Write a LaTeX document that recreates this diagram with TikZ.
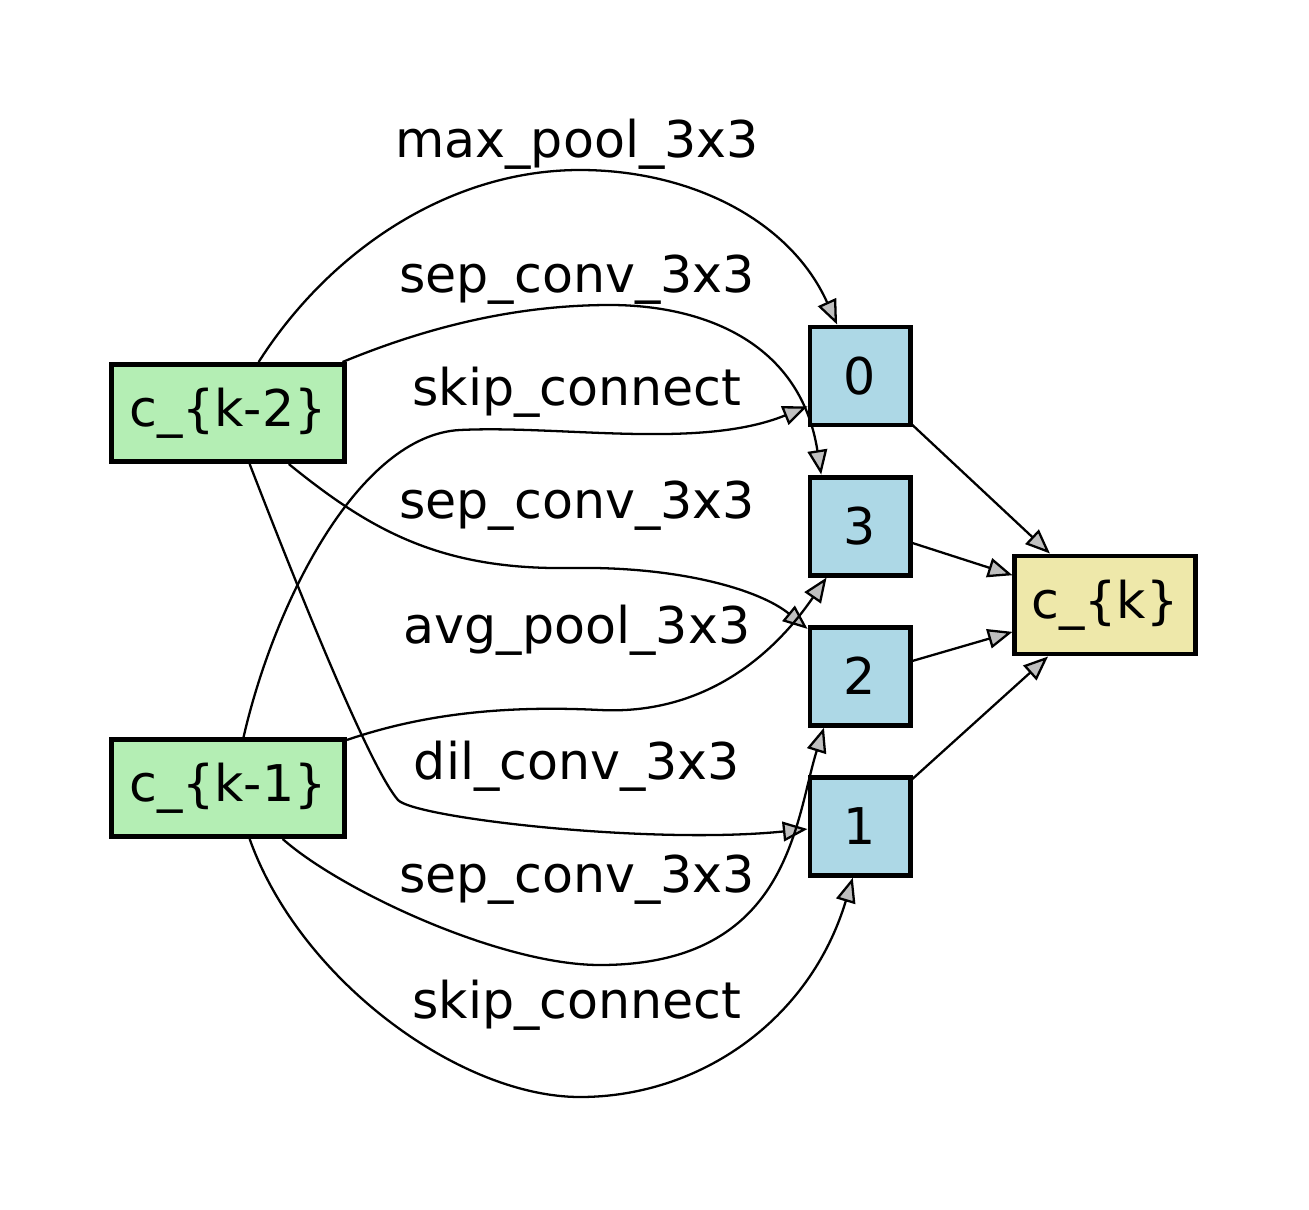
\documentclass[tikz,border=0pt]{standalone}
\usepackage{fontspec}
\setmainfont{DejaVu Sans}
\usetikzlibrary{arrows.meta,positioning}
\definecolor{cellin}{HTML}{B4EEB4}
\definecolor{cellop}{HTML}{ADD8E6}
\definecolor{cellout}{HTML}{EEE8AA}

\begin{document}
\begin{tikzpicture}[x=0.01cm, y=-0.01cm, node distance=1.5cm,
    font=\fontsize{14.4}{17}\selectfont,
    box/.style={draw, line width=1.4pt, inner sep=0pt},
    inbox/.style={box, fill=cellin, minimum width=2.33cm, minimum height=0.97cm},
    opbox/.style={box, fill=cellop, minimum width=1.0cm, minimum height=0.98cm},
    outbox/.style={box, fill=cellout, minimum width=1.8cm, minimum height=0.98cm},
    oplabel/.style={anchor=base},
    link/.style={line width=0.65pt, -{Triangle[length=7pt, width=5.6pt, fill=gray!50]}}]
    \useasboundingbox (0,0) rectangle (1309,1209);

    % Cell inputs
    \node[inbox] (ckm2) at (228,413) {c\_\{k-2\}};
    \node[inbox] (ckm1) at (228,788) {c\_\{k-1\}};

    % Intermediate nodes
    \node[opbox] (n0) at (860,376) {0};
    \node[opbox, below of=n0] (n3) {3};
    \node[opbox, below of=n3] (n2) {2};
    \node[opbox, below of=n2] (n1) {1};

    % Cell output
    \node[outbox] (ck) at (1105,605) {c\_\{k\}};

    % Operations
    \draw[link] (ckm2.59) .. controls (330,250) and (450,170) .. (580,170)
        .. controls (690,170) and (790,220) .. (n0.114);
    \draw[link] (ckm2.24) .. controls (420,330) and (510,305) .. (610,305)
        .. controls (700,305) and (800,340) .. (n3.127);
    \draw[link] (ckm1.73) .. controls (275,600) and (360,435) .. (460,430)
        .. controls (560,425) and (700,450) .. (n0.210);
    \draw[link] (ckm2.320) .. controls (370,530) and (440,570) .. (570,568)
        .. controls (680,566) and (760,590) .. (n2.138);
    \draw[link] (ckm1.22) .. controls (420,715) and (500,705) .. (600,710)
        .. controls (700,715) and (770,660) .. (n3.237);
    \draw[link] (ckm2.293) .. controls (310,620) and (372,770) .. (398,800)
        .. controls (415,818) and (650,845) .. (n1.183);
    \draw[link] (ckm1.317) .. controls (340,890) and (500,965) .. (600,965)
        .. controls (790,965) and (795,820) .. (n2.235);
    \draw[link] (ckm1.293) .. controls (300,980) and (460,1097) .. (580,1097)
        .. controls (700,1097) and (810,1020) .. (n1.262);

    % Labels
    \node[oplabel] (lmax) at (577,157) {max\_pool\_3x3};
    \node[oplabel] (lsep1) at (577,292) {sep\_conv\_3x3};
    \node[oplabel] (lskip1) at (577,405) {skip\_connect};
    \node[oplabel] (lsep2) at (577,518) {sep\_conv\_3x3};
    \node[oplabel] (lavg) at (577,643) {avg\_pool\_3x3};
    \node[oplabel] (ldil) at (577,779) {dil\_conv\_3x3};
    \node[oplabel] (lsep3) at (577,892) {sep\_conv\_3x3};
    \node[oplabel] (lskip2) at (577,1018) {skip\_connect};

    % Outputs
    \path[link] (n0) edge (ck)
        (n3) edge (ck)
        (n2) edge (ck)
        (n1) edge (ck);
\end{tikzpicture}
\end{document}
